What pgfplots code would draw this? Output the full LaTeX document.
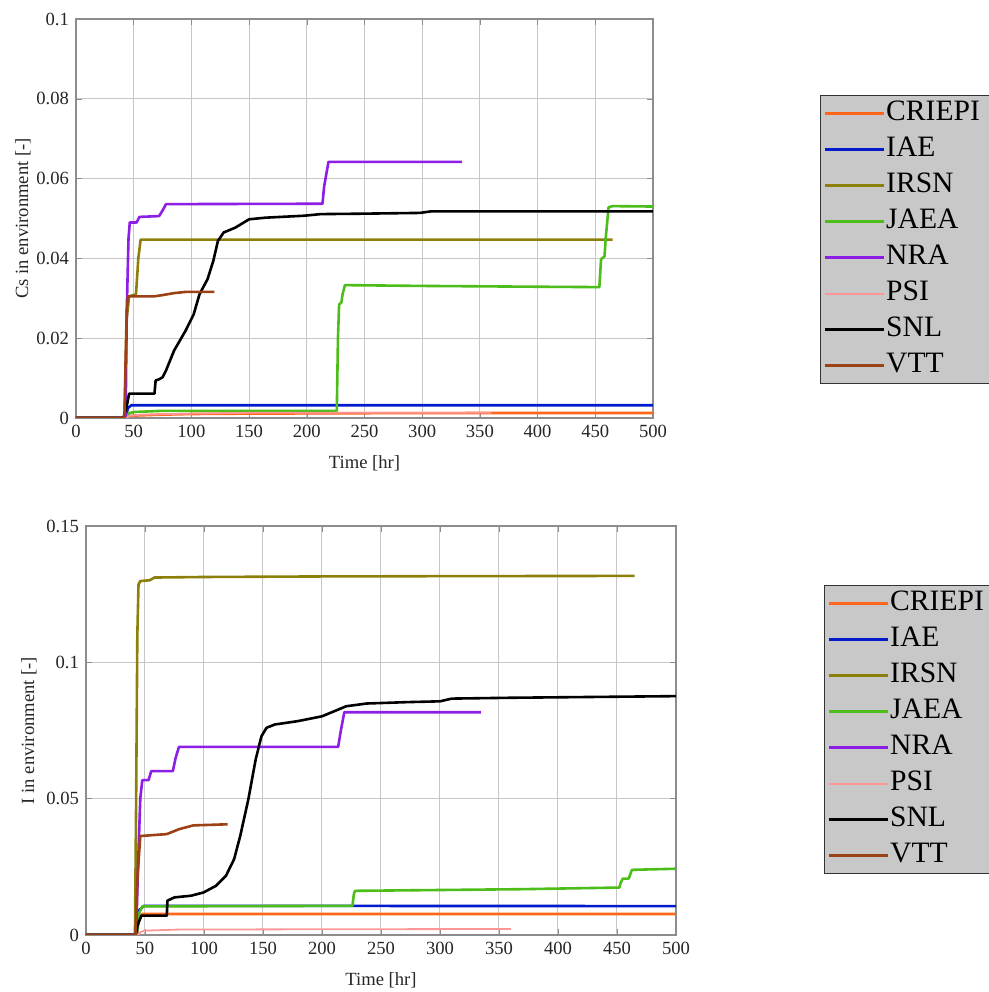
\documentclass[border=0pt]{standalone}
\usepackage{pgfplots}
\pgfplotsset{compat=1.18}
\usepackage{fontspec}
\setmainfont{Liberation Serif}
\newfontfamily\legfont{Liberation Serif}
\definecolor{criepi}{RGB}{255,102,26}
\definecolor{iae}{RGB}{0,26,204}
\definecolor{irsn}{RGB}{140,128,10}
\definecolor{jaea}{RGB}{77,190,25}
\definecolor{nra}{RGB}{140,30,230}
\definecolor{psi}{RGB}{255,150,150}
\definecolor{vtt}{RGB}{155,65,20}
\definecolor{legfill}{RGB}{200,200,200}
\pgfplotsset{
  myaxis/.style={
    scale only axis,
    anchor=south west,
    xmin=0, xmax=500,
    xtick={0,50,100,150,200,250,300,350,400,450,500},
    xticklabels={0,50,100,150,200,250,300,350,400,450,500},
    grid=major,
    major grid style={draw=black!22, line width=0.5pt},
    axis line style={draw=black!45, line width=0.6pt},
    tick align=inside,
    major tick length=3pt,
    tick style={draw=black!45},
    ticklabel style={font=\rmfamily\fontsize{9.3}{11}\selectfont, text=black!85},
    label style={font=\rmfamily\fontsize{9.3}{11}\selectfont, text=black!85},
    xlabel={Time [hr]},
    xlabel shift=2pt,
    legend cell align=left,
    legend image code/.code={\draw[##1] (0pt,0pt) -- (29.5pt,0pt);},
    legend style={
      anchor=north west,
      fill=legfill, draw=black!80, line width=0.6pt,
      font=\legfont\fontsize{14.8}{17}\selectfont,
      inner xsep=1.5pt, inner ysep=0pt,
      column sep=0pt, row sep=0pt,
      nodes={inner xsep=0.5pt, inner ysep=0pt, text height=12.5pt, text depth=5.5pt},
    },
    every axis plot/.append style={line width=1.3pt, line join=round},
  }
}
\begin{document}
\begin{tikzpicture}
\useasboundingbox (0,0) rectangle (494.5pt,496pt);
\clip (0,0) rectangle (494.5pt,496pt);
% ---------------- top panel: Cs ----------------
\begin{axis}[myaxis,
  at={(38pt,287pt)}, width=288.5pt, height=199.5pt,
  ymin=0, ymax=0.1,
  ytick={0,0.02,0.04,0.06,0.08,0.1},
  yticklabels={0,0.02,0.04,0.06,0.08,0.1},
  ylabel={Cs in environment [-]},
  ylabel shift=-4pt,
  legend style={at={(1.2894,0.8095)}},
]
\addplot[criepi] coordinates {(0,0)(43,0)(45,0.0004)(50,0.0006)(70,0.0008)(100,0.001)(150,0.0011)(250,0.0012)(360,0.00125)(500,0.00125)};
\addlegendentry{CRIEPI\hspace*{14pt}}
\addplot[iae] coordinates {(0,0)(43,0)(45,0.0025)(48,0.0032)(500,0.0032)};
\addlegendentry{IAE}
\addplot[irsn] coordinates {(0,0)(42,0)(44,0.025)(46,0.0305)(52,0.031)(54,0.04)(56,0.0447)(465,0.0447)};
\addlegendentry{IRSN}
\addplot[jaea] coordinates {(0,0)(43,0)(46,0.0012)(50,0.0015)(75,0.0018)(226,0.0018)(227,0.02)(228,0.0284)(230,0.029)(231,0.031)(233,0.0333)(300,0.0331)(400,0.0329)(453.5,0.0328)(455,0.0398)(458,0.0405)(459,0.045)(461.5,0.0528)(465,0.0531)(500,0.053)};
\addlegendentry{JAEA}
\addplot[nra] coordinates {(0,0)(43,0)(44,0.027)(45.5,0.045)(46.6,0.049)(52.5,0.049)(55,0.0504)(72,0.0506)(75,0.052)(78,0.0536)(213.6,0.0537)(215,0.058)(218.8,0.0642)(334.4,0.0642)};
\addlegendentry{NRA}
\addplot[psi, line width=0.9pt] coordinates {(0,0)(44,0)(46,0.0005)(55,0.0008)(100,0.0011)(150,0.0013)(360,0.0013)};
\addlegendentry{PSI}
\addplot[black] coordinates {(0,0)(41,0)(44,0.003)(46,0.0061)(68,0.0061)(69,0.0094)(72,0.0097)(75,0.0102)(78,0.0119)(85,0.0169)(95,0.0219)(102,0.026)(107,0.031)(114,0.0348)(119,0.0394)(123,0.0444)(128,0.0465)(138,0.0477)(150,0.0498)(164,0.0502)(198,0.0507)(212,0.0511)(246,0.0512)(298,0.0514)(308,0.0518)(500,0.0518)};
\addlegendentry{SNL}
\addplot[vtt] coordinates {(0,0)(42,0)(43,0.015)(44,0.027)(45,0.0305)(68,0.0305)(75,0.0308)(85,0.0313)(95,0.0316)(120,0.0316)};
\addlegendentry{VTT}
\end{axis}
% ---------------- bottom panel: I ----------------
\begin{axis}[myaxis,
  at={(43pt,28.5pt)}, width=295pt, height=204.5pt,
  ymin=0, ymax=0.15,
  ytick={0,0.05,0.1,0.15},
  yticklabels={0,0.05,0.1,0.15},
  ylabel={I in environment [-]},
  ylabel shift=-2pt,
  legend style={at={(1.2508,0.8557)}},
]
\addplot[criepi] coordinates {(0,0)(43,0)(45,0.006)(47.7,0.0077)(500,0.0077)};
\addlegendentry{CRIEPI\hspace*{14pt}}
\addplot[iae] coordinates {(0,0)(43,0)(45,0.009)(49,0.0107)(500,0.0106)};
\addlegendentry{IAE}
\addplot[irsn] coordinates {(0,0)(41.5,0)(42.5,0.05)(43.5,0.11)(44.5,0.1285)(46,0.1298)(54,0.1301)(58,0.1311)(100,0.1313)(200,0.1315)(300,0.1316)(465,0.1317)};
\addlegendentry{IRSN}
\addplot[jaea] coordinates {(0,0)(43,0)(45,0.008)(47.7,0.0105)(225.8,0.0107)(227,0.015)(228,0.0162)(300,0.0165)(369,0.0168)(452,0.0174)(453,0.019)(455,0.0207)(460,0.0207)(461,0.022)(462.7,0.0239)(500,0.0243)};
\addlegendentry{JAEA}
\addplot[nra] coordinates {(0,0)(42.5,0)(44,0.024)(46,0.05)(47.7,0.0568)(53,0.0568)(55.3,0.0601)(73.6,0.0601)(76,0.065)(78.8,0.069)(213.7,0.069)(216,0.075)(218.9,0.0817)(334.7,0.0817)};
\addlegendentry{NRA}
\addplot[psi, line width=0.9pt] coordinates {(0,0)(44,0)(46,0.001)(49.4,0.0016)(79,0.002)(200,0.0021)(360,0.0022)};
\addlegendentry{PSI}
\addplot[black] coordinates {(0,0)(42,0)(44,0.004)(47,0.0071)(68.5,0.0071)(69,0.0126)(75,0.0138)(89,0.0144)(99.6,0.0156)(110,0.018)(118.6,0.0217)(125.5,0.0278)(130.7,0.0363)(137.6,0.0498)(143.8,0.0644)(148.7,0.0729)(153,0.076)(160,0.0772)(179,0.0784)(200,0.0802)(210,0.082)(220.6,0.0839)(238,0.0849)(272,0.0854)(300,0.0857)(310,0.0867)(359,0.087)(500,0.0876)};
\addlegendentry{SNL}
\addplot[vtt] coordinates {(0,0)(42,0)(43.5,0.02)(46,0.0363)(68.5,0.037)(78.8,0.0388)(91,0.0402)(120,0.0406)};
\addlegendentry{VTT}
\end{axis}
\end{tikzpicture}
\end{document}
